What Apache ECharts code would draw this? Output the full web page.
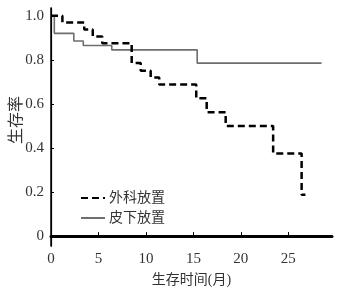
<!DOCTYPE html>
<html>
<head>
<meta charset="utf-8">
<script src="https://cdn.jsdelivr.net/npm/echarts@6/dist/echarts.min.js"></script>
<style>
  html, body { margin: 0; padding: 0; background: #fff; }
  #chart { width: 350px; height: 288px; }
</style>
</head>
<body>
<div id="chart"></div>
<script>
// survival curves (months, survival rate)
const surgeryTimes = [0, 1.2, 3.5, 4.4, 5.4, 8.5, 9.45, 10.5, 11.4, 15.3, 16.4, 18.4, 23.4, 26.4, 26.8];
const surgeryRates = [1, 0.969, 0.9375, 0.906, 0.875, 0.785, 0.75, 0.72, 0.6875, 0.625, 0.5625, 0.5, 0.375, 0.1875, 0.1875];
const subcutTimes = [0, 0.35, 2.4, 3.4, 6.4, 15.4, 28.5];
const subcutRates = [1, 0.92, 0.885, 0.865, 0.845, 0.785, 0.785];
const seriesNames = ['外科放置', '皮下放置'];
const xTicks = [0, 5, 10, 15, 20, 25];
const yTicks = [0, 0.2, 0.4, 0.6, 0.8, 1.0];

const font = "'Liberation Serif', 'Noto Sans CJK SC', serif";

function pairs(xs, ys) {
  return xs.map((x, i) => [x, ys[i]]);
}

const chart = echarts.init(document.getElementById('chart'));
chart.setOption({
  animation: false,
  grid: { left: 51, right: 18, top: 8, bottom: 42, outerBoundsMode: 'none' },
  graphic: [{
    type: 'text',
    left: 9,
    top: 96,
    rotation: Math.PI / 2,
    style: { text: '生存率', font: '16px ' + font, fill: '#333' }
  }],
  legend: {
    orient: 'vertical',
    left: 75,
    top: 186,
    itemWidth: 24,
    itemHeight: 14,
    itemGap: 6,
    itemStyle: { opacity: 0 },
    textStyle: { fontFamily: font, fontSize: 14, color: '#333', padding: [0, 0, 0, -1] },
    data: seriesNames
  },
  xAxis: [{
    type: 'value',
    min: 0,
    max: 29.6,
    name: '生存时间(月)',
    nameLocation: 'middle',
    nameGap: 27,
    nameTextStyle: { fontFamily: font, fontSize: 14, color: '#333' },
    splitLine: { show: false },
    axisLine: { lineStyle: { color: '#000', width: 1.2 } },
    axisTick: { inside: true, length: 4, lineStyle: { color: '#000' }, customValues: xTicks },
    axisLabel: { fontFamily: font, fontSize: 15, color: '#333', margin: 6, customValues: xTicks }
  }, {
    type: 'value',
    position: 'top',
    min: 0,
    max: 29.6,
    splitLine: { show: false },
    axisLine: { show: true, lineStyle: { color: '#000', width: 3 } },
    axisTick: { show: false },
    axisLabel: { show: false }
  }],
  yAxis: [{
    type: 'value',
    min: -0.045,
    max: 1.035,
    splitLine: { show: false },
    axisLine: { show: true, lineStyle: { color: '#000', width: 1.2 } },
    axisTick: { show: true, inside: true, length: 3, lineStyle: { color: '#000' }, customValues: yTicks },
    axisLabel: {
      fontFamily: font, fontSize: 15, color: '#333', margin: 7,
      customValues: yTicks,
      formatter: v => (v === 0 ? '0' : v.toFixed(1))
    }
  }, {
    type: 'value',
    position: 'right',
    min: -0.045,
    max: 1.035,
    splitLine: { show: false },
    axisLine: { show: true, lineStyle: { color: '#000', width: 1.5 } },
    axisTick: { show: false },
    axisLabel: { show: false }
  }],
  series: [{
    name: seriesNames[0],
    type: 'line',
    step: 'end',
    symbol: 'none',
    lineStyle: { color: '#000', width: 2.5, type: [7, 4] },
    itemStyle: { color: '#000' },
    data: pairs(surgeryTimes, surgeryRates),
    z: 3
  }, {
    name: seriesNames[1],
    type: 'line',
    step: 'end',
    symbol: 'none',
    lineStyle: { color: '#6e6e6e', width: 1.6 },
    itemStyle: { color: '#6e6e6e' },
    data: pairs(subcutTimes, subcutRates),
    z: 2
  }]
});
</script>
</body>
</html>
